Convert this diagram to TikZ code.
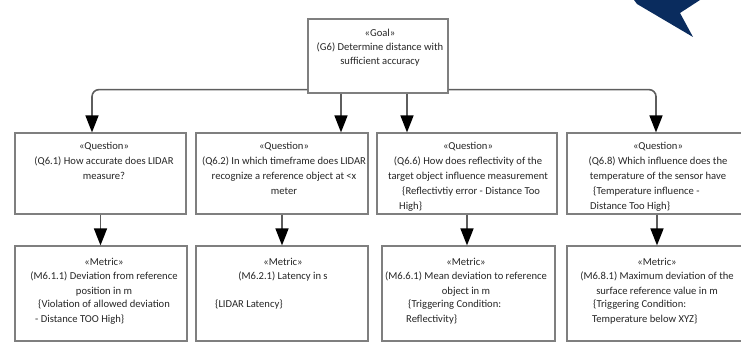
\documentclass[tikz,border=0pt]{standalone}
\usepackage{fontspec}
\setmainfont{Carlito}
\usetikzlibrary{arrows.meta}
\definecolor{boxgray}{HTML}{7F7F7F}
\definecolor{linegray}{HTML}{5E5E5E}
\definecolor{navy}{HTML}{0A2C5E}
\tikzset{
  box/.style={draw=boxgray, line width=1.2pt, fill=white, inner sep=0pt},
  txt/.style={inner sep=0pt, font=\fontsize{10.6}{12}\selectfont, text=black!85},
  ctr/.style={txt, anchor=base},
  lft/.style={txt, anchor=base west},
  conn/.style={draw=linegray, line width=1.6pt, rounded corners=7pt,
    -{Triangle[length=17pt, width=13pt, fill=black, color=black]}},
}
% #1 name, #2 style, #3 x, #4 first baseline, #5 line step, #6 lines
\newcommand\textlines[6]{%
  \foreach \t [count=\i] in {#6}{%
    \node[#2] (#1-\i) at ({#3}, {#4+(\i-1)*#5}) {\t};}}
\begin{document}
\begin{tikzpicture}[x=1pt, y=-1pt]
\useasboundingbox (0,0) rectangle (741,345);
\clip (0,0) rectangle (741,345);

% corner ornament
\fill[navy] (634,0) -- (637,4) -- (693,37) -- (680,13) -- (700,0) -- cycle;

% boxes
\node[box, minimum width=140, minimum height=74] (goal) at (378,56) {};
\node[box, minimum width=171, minimum height=81] (q1) at (100.5,173.5) {};
\node[box, minimum width=172, minimum height=81] (q2) at (282,173.5) {};
\node[box, minimum width=180, minimum height=81] (q3) at (467,173.5) {};
\node[box, minimum width=180, minimum height=81] (q4) at (657,173.5) {};
\node[box, minimum width=172, minimum height=95] (m1) at (101,293.5) {};
\node[box, minimum width=172, minimum height=95] (m2) at (282,293.5) {};
\node[box, minimum width=173, minimum height=95] (m3) at (468.5,293.5) {};
\node[box, minimum width=180, minimum height=95] (m4) at (657,293.5) {};

% goal text
\textlines{gt}{ctr}{380}{36.5}{14}{«Goal»,(G6) Determine distance with,sufficient accuracy}

% question texts
\textlines{q1t}{ctr}{104}{149.5}{15}{«Question»,(Q6.1) How accurate does LIDAR,measure?}
\textlines{q2t}{ctr}{284}{149.5}{15}{«Question»,(Q6.2) In which timeframe does LIDAR,recognize a reference object at <x,meter}
\textlines{q3t}{ctr}{468}{149.5}{15}{«Question»,(Q6.6) How does reflectivity of the,target object influence measurement}
\node[lft] (q3n1) at (402,194.5) {\{Reflectivtiy error - Distance Too};
\node[lft] (q3n2) at (399,209.5) {High\}};
\textlines{q4t}{ctr}{658}{149.5}{15}{«Question»,(Q6.8) Which influence does the,temperature of the sensor have}
\node[lft] (q4n1) at (593,194.5) {\{Temperature influence -};
\node[lft] (q4n2) at (590,209.5) {Distance Too High\}};

% metric texts
\textlines{m1t}{ctr}{104}{265.5}{14.3}{«Metric»,(M6.1.1) Deviation from reference,position in m}
\node[lft] (m1n1) at (38,307.5) {\{Violation of allowed deviation};
\node[lft] (m1n2) at (35,322) {- Distance TOO High\}};
\textlines{m2t}{ctr}{283}{265.5}{14.3}{«Metric»,(M6.2.1) Latency in s}
\node[lft] (m2n1) at (215,307.5) {\{LIDAR Latency\}};
\textlines{m3t}{ctr}{466}{265.5}{14.3}{«Metric»,(M6.6.1) Mean deviation to reference,object in m}
\node[lft] (m3n1) at (408,307.5) {\{Triggering Condition:};
\node[lft] (m3n2) at (406,322) {Reflectivity\}};
\textlines{m4t}{ctr}{657}{265.5}{14.3}{«Metric»,(M6.8.1) Maximum deviation of the,surface reference value in m}
\node[lft] (m4n1) at (593,307.5) {\{Triggering Condition:};
\node[lft] (m4n2) at (592,322) {Temperature below XYZ\}};

% goal to questions
\draw[conn] ([yshift=4pt]goal.south west) -| ([xshift=-8.5pt]q1.north);
\draw[conn] ([xshift=-37pt]goal.south) -- ([xshift=-37pt]goal.south |- q2.north);
\draw[conn] ([xshift=29pt]goal.south) -- ([xshift=29pt]goal.south |- q3.north);
\draw[conn] ([yshift=4pt]goal.south east) -| ([xshift=-1pt]q4.north);

% questions to metrics
\draw[conn] (q1.south) -- (q1.south |- m1.north);
\draw[conn] (q2.south) -- (q2.south |- m2.north);
\draw[conn] (q3.south) -- (q3.south |- m3.north);
\draw[conn] (q4.south) -- (q4.south |- m4.north);
\end{tikzpicture}
\end{document}
